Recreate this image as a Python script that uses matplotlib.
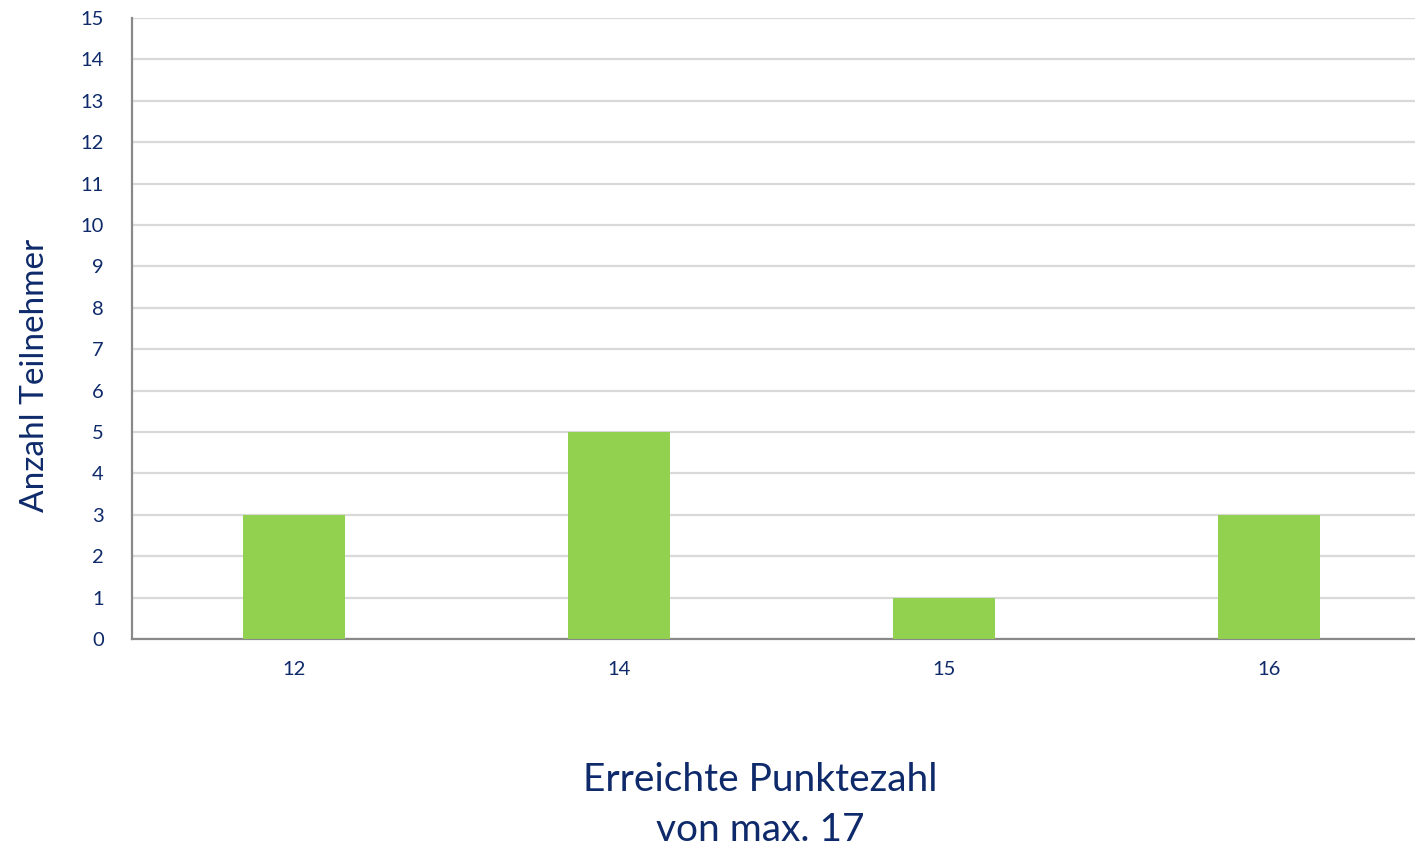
import matplotlib
matplotlib.use("Agg")
import matplotlib.pyplot as plt
import numpy as np

# data
punkte = ["12", "14", "15", "16"]
teilnehmer = [3, 5, 1, 3]
y_ticks = list(range(0, 16))

text_color = "#0E2A6A"
bar_color = "#92D050"
grid_color = "#D9D9D9"
axis_color = "#898989"

plt.rcParams["font.family"] = ["Lato", "DejaVu Sans"]

fig = plt.figure(figsize=(14.15, 8.5), dpi=100, facecolor="white")
# axes runs a bit past the right edge, as in the original crop
ax = fig.add_axes([131.5 / 1415, 1 - 639 / 850, 1300 / 1415, 621 / 850])

x = np.arange(len(punkte))
ax.bar(x, teilnehmer, width=0.314, color=bar_color, zorder=3)

ax.set_xlim(-0.5, len(punkte) - 0.5)
ax.set_ylim(0, 15)
ax.set_yticks(y_ticks)
ax.set_xticks(x)
ax.set_xticklabels(punkte)

ax.yaxis.grid(True, color=grid_color, linewidth=1.6, zorder=0)
ax.set_axisbelow(True)

for side in ["top", "right"]:
    ax.spines[side].set_visible(False)
for side in ["left", "bottom"]:
    ax.spines[side].set_color(axis_color)
    ax.spines[side].set_linewidth(1.6)

ax.tick_params(axis="y", length=0, pad=20, labelsize=14.5, labelcolor=text_color)
ax.tick_params(axis="x", length=0, pad=16, labelsize=14.5, labelcolor=text_color)

fig.text(35 / 1415, 1 - 375 / 850, "Anzahl Teilnehmer", rotation=90,
         ha="center", va="center", fontsize=24, color=text_color)
fig.text(760 / 1415, 1 - 805 / 850, "Erreichte Punktezahl\nvon max. 17",
         ha="center", va="center", fontsize=28, color=text_color,
         linespacing=1.45)

fig.savefig("out.png", dpi=100, facecolor="white")
